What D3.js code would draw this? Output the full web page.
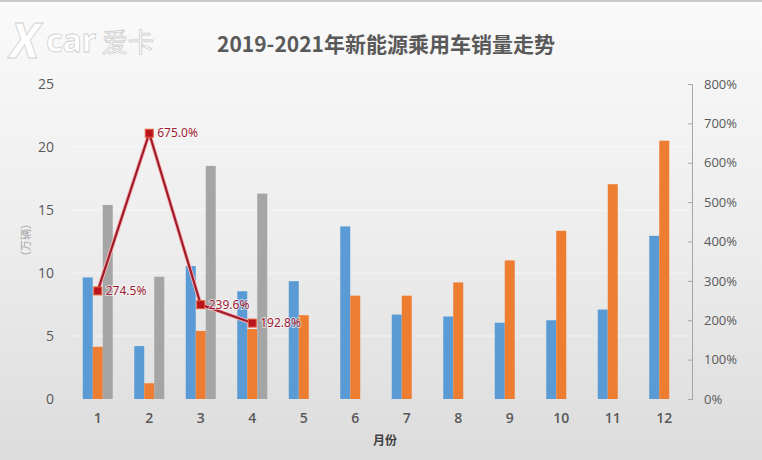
<!DOCTYPE html>
<html>
<head>
<meta charset="utf-8">
<script src="https://cdn.jsdelivr.net/npm/d3@7/dist/d3.min.js"></script>
<style>
  body { margin: 0; padding: 0; background: #fff; }
  svg { display: block; }
  text { font-family: "Noto Sans", "Noto Sans CJK SC", sans-serif; }
</style>
</head>
<body>
<script>
/* 2019-2021 new energy passenger car sales, monthly bars + 2021 growth line */
var months = [1, 2, 3, 4, 5, 6, 7, 8, 9, 10, 11, 12];
var seriesNames = ["2019", "2020", "2021"];
var sales2019 = [9.65, 4.2, 10.55, 8.55, 9.35, 13.7, 6.7, 6.55, 6.05, 6.25, 7.1, 12.95];
var sales2020 = [4.14, 1.25, 5.4, 5.55, 6.65, 8.2, 8.2, 9.25, 11.0, 13.35, 17.05, 20.5];
var sales2021 = [15.4, 9.7, 18.5, 16.3, null, null, null, null, null, null, null, null];
var growth2021 = [274.5, 675.0, 239.6, 192.8]; // % vs same month 2020
var leftTicks = [0, 5, 10, 15, 20, 25];
var rightTicks = [0, 100, 200, 300, 400, 500, 600, 700, 800];

var W = 762, H = 460;
var colors = {"2019": "#5b9bd5", "2020": "#ed7d31", "2021": "#a5a5a5"};

var svg = d3.select('body').append('svg').attr('width', W).attr('height', H);

// background gradient
var defs = svg.append('defs');
var grad = defs.append('linearGradient').attr('id', 'bg').attr('x1', 0).attr('y1', 0).attr('x2', 0).attr('y2', 1);
grad.append('stop').attr('offset', '0%').attr('stop-color', '#fafafa');
grad.append('stop').attr('offset', '55%').attr('stop-color', '#ececec');
grad.append('stop').attr('offset', '100%').attr('stop-color', '#dcdcdc');
svg.append('rect').attr('width', W).attr('height', H).attr('fill', 'url(#bg)');
svg.append('rect').attr('width', W).attr('height', 2).attr('fill', '#c9c9c9');

var x = d3.scaleBand().domain(months).range([72, 690]).padding(0);
var sub = d3.scaleBand().domain(seriesNames).range([-15, 15]).padding(0);
var y = d3.scaleLinear().domain([0, 25]).range([399, 84]);
var y2 = d3.scaleLinear().domain([0, 800]).range([399, 84]);

// faint gridlines
svg.append('g').selectAll('line.grid')
  .data(leftTicks.slice(1))
  .enter().append('line')
  .classed('grid', true)
  .attr('x1', 72).attr('x2', 690)
  .attr('y1', function(d){ return y(d); })
  .attr('y2', function(d){ return y(d); })
  .style('stroke', '#ffffff').style('stroke-opacity', 0.5).style('stroke-width', 1);

// bars
var barData = [];
months.forEach(function(m, i){
  [sales2019, sales2020, sales2021].forEach(function(arr, j){
    if(arr[i] != null) barData.push({month: m, series: seriesNames[j], value: arr[i]});
  });
});
svg.append('g').selectAll('rect.bar')
  .data(barData)
  .enter().append('rect')
  .classed('bar', true)
  .attr('x', function(d){ return x(d.month) + x.bandwidth() / 2 + sub(d.series); })
  .attr('width', sub.bandwidth())
  .attr('y', function(d){ return y(d.value); })
  .attr('height', function(d){ return y(0) - y(d.value); })
  .style('fill', function(d){ return colors[d.series]; });

// left axis (labels only)
var leftAxis = svg.append('g').attr('transform', 'translate(58,0)')
  .call(d3.axisLeft(y).tickValues(leftTicks).tickSize(0).tickPadding(4));
leftAxis.select('.domain').remove();
leftAxis.selectAll('text').style('font-size', '14px').style('fill', '#595959')
  .style('font-family', '"Open Sans", sans-serif');

// right axis
var rightAxis = svg.append('g').attr('transform', 'translate(692,0)')
  .call(d3.axisRight(y2).tickValues(rightTicks).tickSize(-4).tickSizeOuter(-4).tickPadding(12)
    .tickFormat(function(d){ return d + '%'; }));
rightAxis.select('.domain').style('stroke', '#a6a6a6');
rightAxis.selectAll('.tick line').style('stroke', '#a6a6a6');
rightAxis.selectAll('text').style('font-size', '13px').style('fill', '#595959')
  .style('font-family', '"Open Sans", sans-serif');

// bottom axis
var bottomAxis = svg.append('g').attr('transform', 'translate(0,399)')
  .call(d3.axisBottom(x).tickSize(0).tickPadding(14));
bottomAxis.select('.domain').remove();
bottomAxis.selectAll('text').style('font-size', '14px').style('fill', '#595959')
  .style('font-family', '"Open Sans", sans-serif').style('font-weight', 600);

// growth line
var lineData = growth2021.map(function(g, i){ return {month: months[i], value: g}; });
var line = d3.line()
  .x(function(d){ return x(d.month) + x.bandwidth() / 2; })
  .y(function(d){ return y2(d.value); });
svg.append('path').datum(lineData).attr('d', line)
  .style('fill', 'none').style('stroke', '#f7b4b4').style('stroke-width', 4).style('stroke-linejoin', 'round');
svg.append('path').datum(lineData).attr('d', line)
  .style('fill', 'none').style('stroke', '#a01a2c').style('stroke-width', 2.2).style('stroke-linejoin', 'round');

svg.append('g').selectAll('rect.marker')
  .data(lineData)
  .enter().append('rect')
  .classed('marker', true)
  .attr('x', function(d){ return x(d.month) + x.bandwidth() / 2 - 4; })
  .attr('y', function(d){ return y2(d.value) - 4; })
  .attr('width', 8).attr('height', 8)
  .style('fill', '#b8141c').style('stroke', '#e8603c').style('stroke-width', 1);

svg.append('g').selectAll('text.lbl')
  .data(lineData)
  .enter().append('text')
  .classed('lbl', true)
  .attr('x', function(d){ return x(d.month) + x.bandwidth() / 2 + 8; })
  .attr('y', function(d){ return y2(d.value) + 4; })
  .text(function(d){ return d.value.toFixed(1) + '%'; })
  .style('font-size', '12px').style('fill', '#9e1b32')
  .style('paint-order', 'stroke').style('stroke', '#ffffff').style('stroke-width', 2).style('stroke-opacity', 0.6);

// titles
svg.append('text').attr('x', 386).attr('y', 52).attr('text-anchor', 'middle')
  .text('2019-2021年新能源乘用车销量走势')
  .style('font-family', '"Noto Sans CJK SC", sans-serif').style('font-size', '21px')
  .style('font-weight', 700).style('fill', '#595959');

svg.append('text').attr('transform', 'translate(30,240) rotate(-90)').attr('text-anchor', 'middle')
  .text('（万辆）')
  .style('font-family', '"Noto Sans CJK SC", sans-serif').style('font-size', '11px').style('fill', '#a6a6a6');

svg.append('text').attr('x', 385).attr('y', 445).attr('text-anchor', 'middle')
  .text('月份')
  .style('font-family', '"Noto Sans CJK SC", sans-serif').style('font-size', '12px')
  .style('font-weight', 700).style('fill', '#404040');

// watermark logo
var logo = svg.append('g').style('fill', '#ffffff').style('stroke', '#cfcfcf').style('stroke-width', 0.8);
logo.append('text').attr('x', 10).attr('y', 58).text('X')
  .style('font-size', '48px').style('font-weight', 700).style('font-style', 'italic');
logo.append('text').attr('x', 46).attr('y', 52).text('car')
  .style('font-size', '32px').style('font-weight', 700);
logo.append('text').attr('x', 102).attr('y', 52).text('爱卡')
  .style('font-family', '"Noto Sans CJK SC", sans-serif').style('font-size', '26px');
</script>
</body>
</html>
